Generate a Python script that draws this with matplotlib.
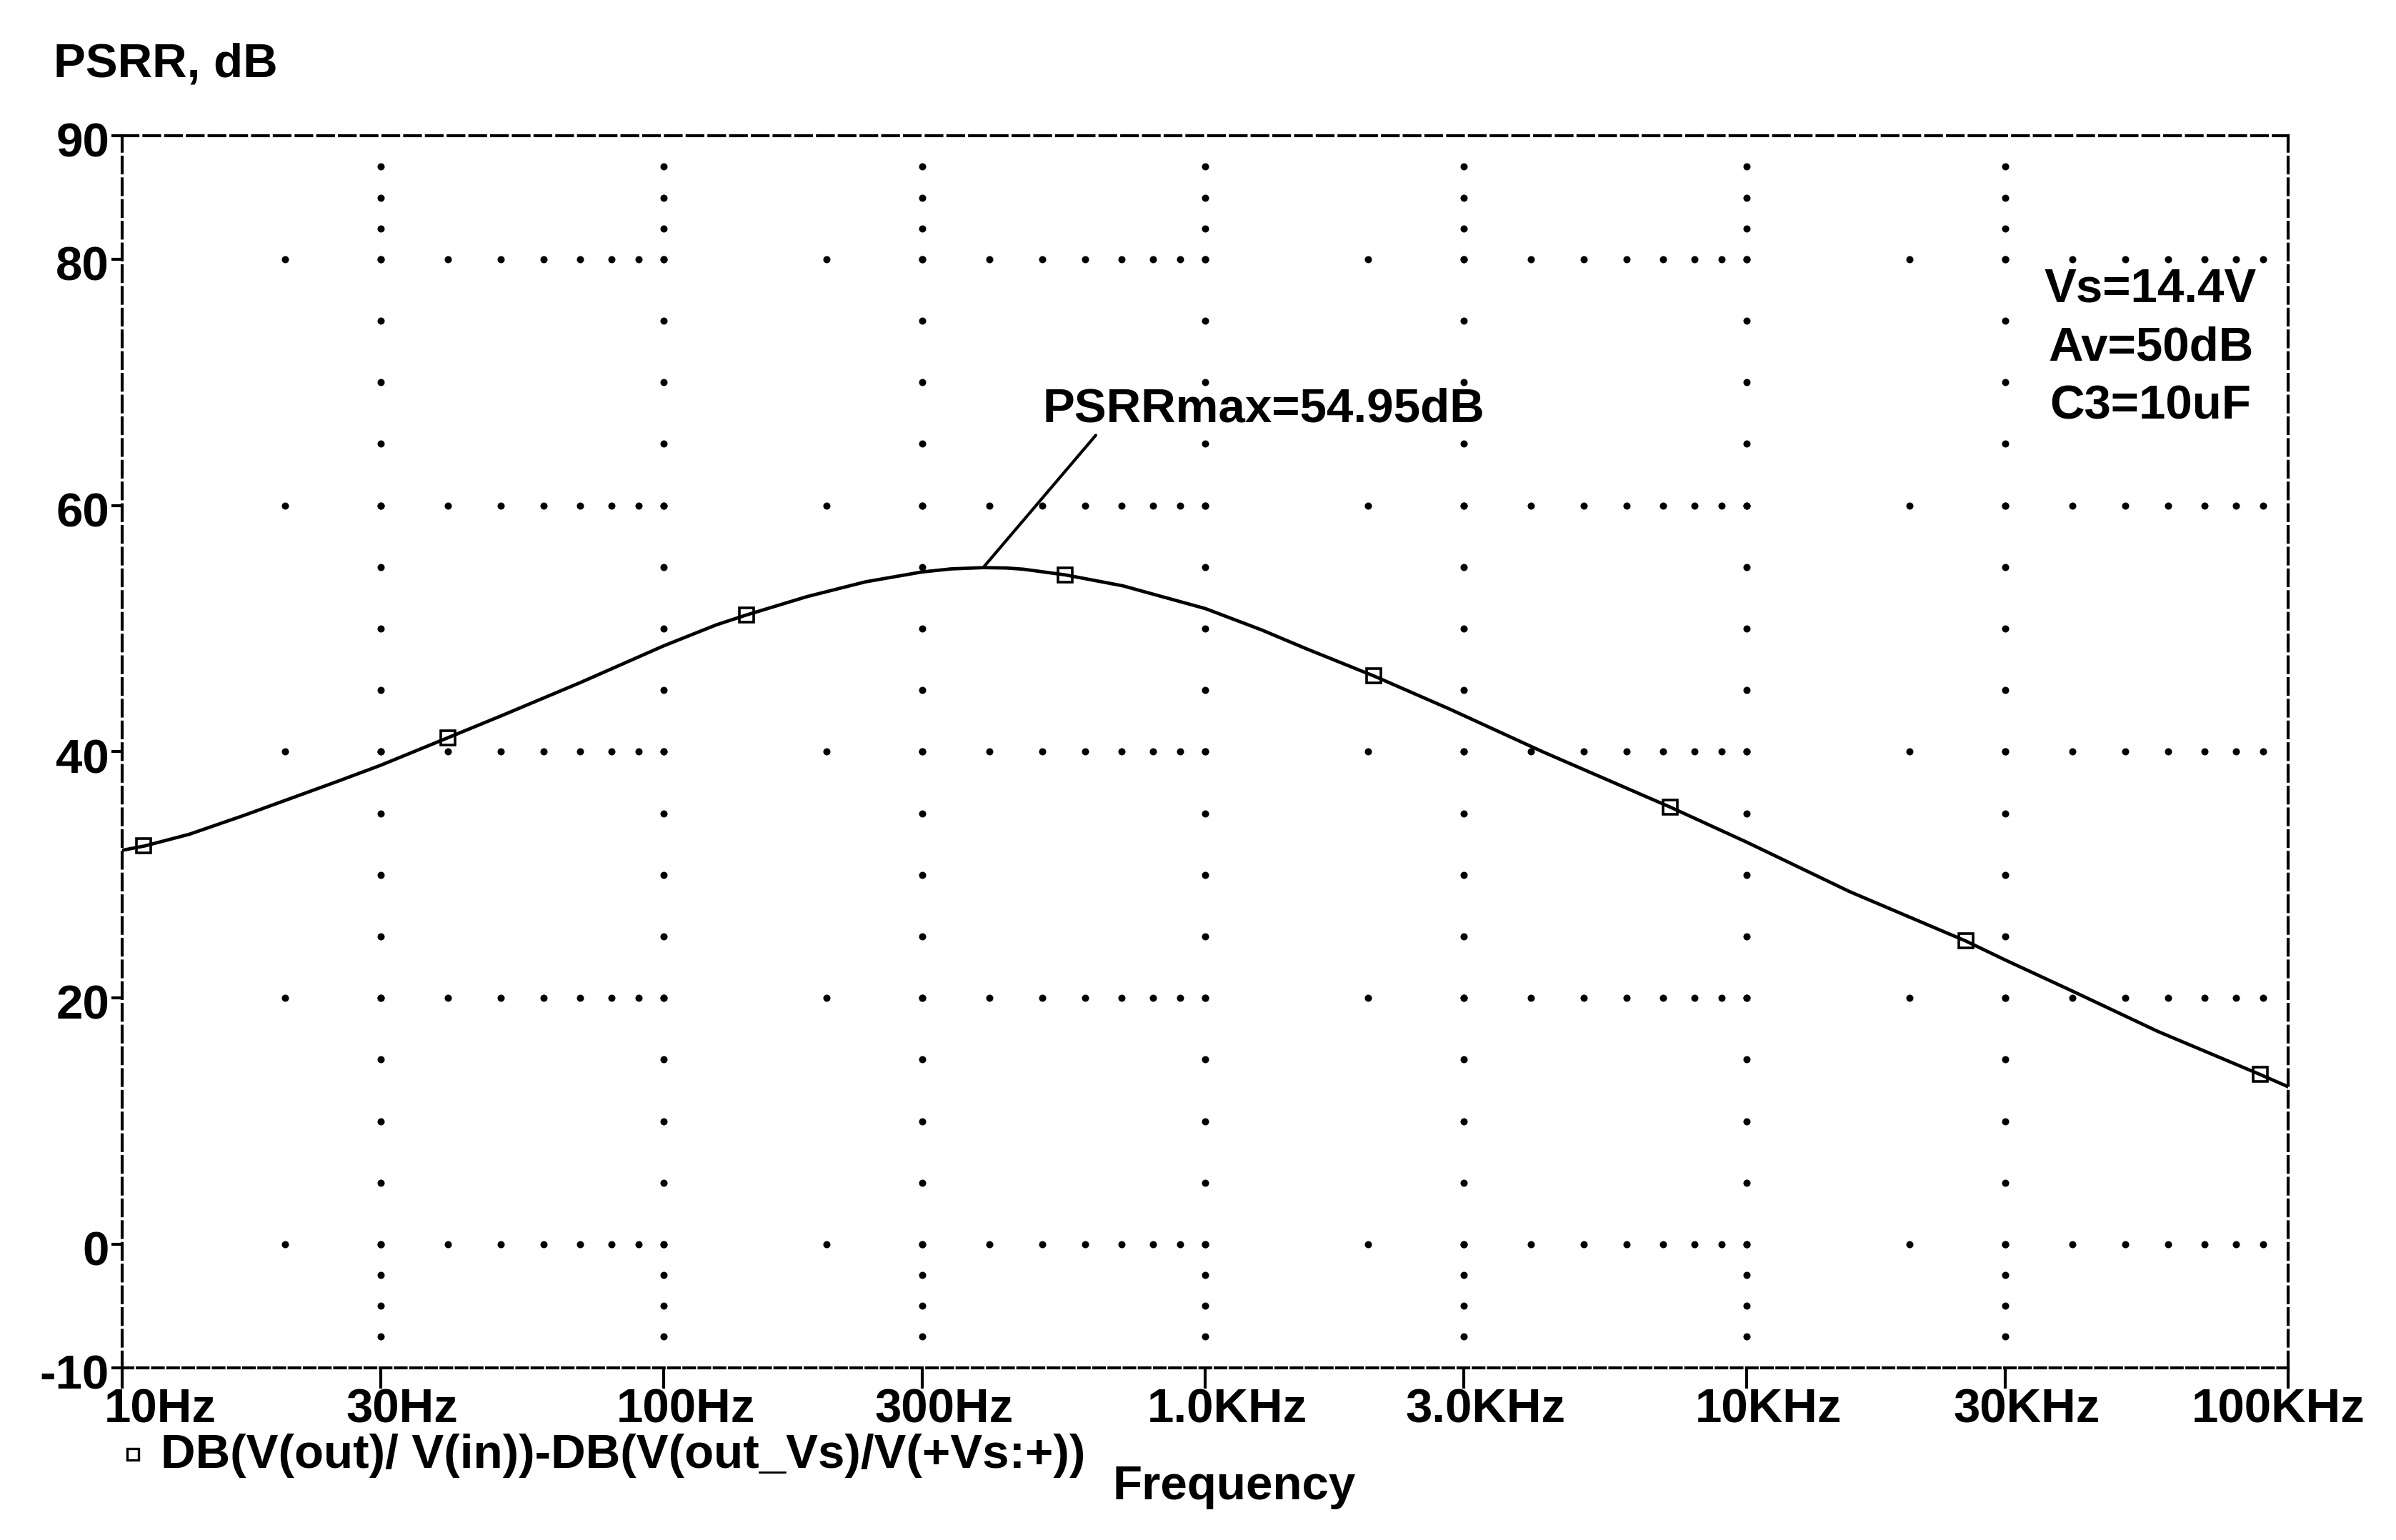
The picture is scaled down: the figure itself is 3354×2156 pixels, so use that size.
import matplotlib.pyplot as plt
import matplotlib.transforms as mtransforms

# PSRR curve
freq = [10, 11, 13.3, 16.7, 20, 25, 30, 40, 50, 70, 100, 125, 142, 184, 236,
        300, 340, 389, 430, 462, 552, 705, 1000, 1270, 1540, 2050, 2830, 4200,
        7230, 10000, 15500, 25400, 30000, 39800, 57400, 88700, 100000]
psrr = [32.0, 32.35, 33.3, 34.8, 36.05, 37.6, 38.9, 41.15, 42.9, 45.6, 48.6, 50.3, 51.1, 52.6, 53.8,
        54.6, 54.85, 54.95, 54.92, 54.82, 54.36, 53.47, 51.63, 49.9, 48.35, 46.15, 43.46, 40.0,
        35.5, 32.66, 28.64, 24.63, 23.1, 20.6, 17.3, 13.8, 12.8]

# trace markers
mk_freq = [10.95, 40, 142, 552, 2050, 7230, 25400, 88700]
mk_psrr = [32.35, 41.15, 51.1, 54.36, 46.15, 35.5, 24.63, 13.8]

peak_f, peak_db = 389, 54.95

xticks = [10, 30, 100, 300, 1000, 3000, 10000, 30000, 100000]
xlabels = ["10Hz", "30Hz", "100Hz", "300Hz", "1.0KHz", "3.0KHz", "10KHz", "30KHz", "100KHz"]
yticks = [-10, 0, 20, 40, 60, 80, 90]

plt.rcParams['font.family'] = ['Liberation Sans', 'DejaVu Sans']
plt.rcParams['font.weight'] = 'bold'
FS = 24.2

fig = plt.figure(figsize=(16.775, 10.78), dpi=200)
ax = fig.add_axes([0.051, 0.112, 0.9037, 0.7997])
ax.set_xscale('log')
ax.set_xlim(10, 1e5)
ax.set_ylim(-10, 90)

# dotted grid the way PSpice draws it
row_x = [k * 10 ** n for n in range(1, 5) for k in range(1, 10) if k * 10 ** n > 10]
for yv in range(0, 90, 20):
    ax.plot(row_x, [yv] * len(row_x), ls='none', marker='o', ms=2.6, color='black', zorder=1)
col_y = [-7.5, -5, -2.5] + list(range(0, 81, 5)) + [82.5, 85, 87.5]
for xv in [30, 100, 300, 1000, 3000, 10000, 30000]:
    ax.plot([xv] * len(col_y), col_y, ls='none', marker='o', ms=2.6, color='black', zorder=1)

ax.plot(freq, psrr, color='black', lw=1.7, zorder=3)
ax.plot(mk_freq, mk_psrr, ls='none', marker='s', ms=7, mfc='none', mec='black', mew=1.3, zorder=4)

# frame
for side in ['top', 'left', 'right']:
    ax.spines[side].set_linewidth(1.5)
    ax.spines[side].set_linestyle((0, (5.3, 2.0)))
ax.spines['bottom'].set_linewidth(1.5)
ax.spines['bottom'].set_linestyle((0, (3.6, 1.5)))

ax.set_xticks(xticks)
ax.set_xticklabels(xlabels, fontsize=FS, fontweight='bold')
ax.minorticks_off()
ax.set_yticks(yticks)
ax.set_yticklabels([str(v) for v in yticks], fontsize=FS, fontweight='bold')
ax.tick_params(axis='x', direction='out', length=10.5, width=1.5, pad=0)
ax.tick_params(axis='y', direction='out', length=5.5, width=1.5, pad=1)

offsets = [19, 11, 11, 11, 11, 11, 11, 11, -5]
for lab, dx in zip(ax.get_xticklabels(), offsets):
    lab.set_transform(lab.get_transform() + mtransforms.ScaledTranslation(dx / 72, 0, fig.dpi_scale_trans))
for lab in ax.get_yticklabels():
    lab.set_transform(lab.get_transform() + mtransforms.ScaledTranslation(0, -2 / 72, fig.dpi_scale_trans))

# annotation of the peak
ax.annotate('', xy=(peak_f, peak_db), xytext=(0.4495, 0.757), textcoords='axes fraction',
            arrowprops=dict(arrowstyle='-', lw=1.5, color='black', shrinkA=0, shrinkB=0))
ax.text(0.527, 0.778, "PSRRmax=54.95dB", transform=ax.transAxes, ha='center', va='center',
        fontsize=FS, fontweight='bold')

# conditions
for txt, yy in [("Vs=14.4V", 0.875), ("Av=50dB", 0.8275), ("C3=10uF", 0.780)]:
    ax.text(0.9365, yy, txt, transform=ax.transAxes, ha='center', va='center',
            fontsize=FS, fontweight='bold')

fig.text(0.0223, 0.958, "PSRR, dB", ha='left', va='center', fontsize=FS, fontweight='bold')
fig.text(0.515, 0.0345, "Frequency", ha='center', va='center', fontsize=FS, fontweight='bold')

# legend entry
fig.lines.append(plt.Line2D([0.0555], [0.0555], transform=fig.transFigure, ls='none', marker='s',
                            ms=5.5, mfc='none', mec='black', mew=1.2))
fig.text(0.067, 0.0545, "DB(V(out)/ V(in))-DB(V(out_Vs)/V(+Vs:+))", ha='left', va='center',
         fontsize=FS, fontweight='bold')

fig.savefig('out.png', dpi=200)
